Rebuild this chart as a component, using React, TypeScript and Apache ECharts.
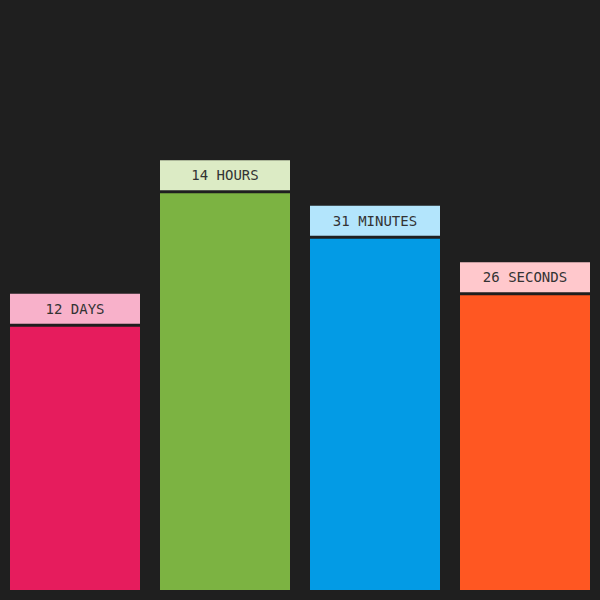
import React, { useEffect, useRef } from "react";
import * as echarts from "echarts";

const categories = ["DAYS", "HOURS", "MINUTES", "SECONDS"];
const counts = [12, 14, 31, 26];
const unitMax = [31, 24, 60, 60];
const barColors = ["#e61c5d", "#7cb342", "#039be5", "#ff5722"];
const labelColors = ["#f8b1ca", "#dcebc5", "#b3e5fc", "#ffc8cc"];

export default function App() {
  const ref = useRef<HTMLDivElement>(null);
  useEffect(() => {
    document.body.style.margin = "0";
    document.body.style.background = "#1f1f1f";
    const chart = echarts.init(ref.current!, null, { renderer: "svg" });
    const data = counts.map((c, i) => ({
      value: c / unitMax[i],
      itemStyle: { color: barColors[i] },
      label: { backgroundColor: labelColors[i] },
    }));
    chart.setOption({
      animation: false,
      backgroundColor: "#1f1f1f",
      grid: { left: -1, right: 0, top: 0, bottom: 10, containLabel: false },
      xAxis: {
        type: "category",
        data: categories,
        show: false,
      },
      yAxis: {
        type: "value",
        min: 0,
        max: 590 / 680,
        show: false,
        splitLine: { show: false },
      },
      series: [
        {
          type: "bar",
          data,
          barWidth: 130,
          label: {
            show: true,
            position: "top",
            distance: 3,
            width: 130,
            height: 30,
            lineHeight: 30,
            align: "center",
            fontFamily: "DejaVu Sans Mono",
            fontSize: 14,
            color: "#333333",
            formatter: (p: any) => `${counts[p.dataIndex]} ${categories[p.dataIndex]}`,
          },
        },
      ],
    });
    return () => chart.dispose();
  }, []);
  return (
    <div
      ref={ref}
      style={{ position: "fixed", left: 0, top: 0, width: 600, height: 600 }}
    />
  );
}
